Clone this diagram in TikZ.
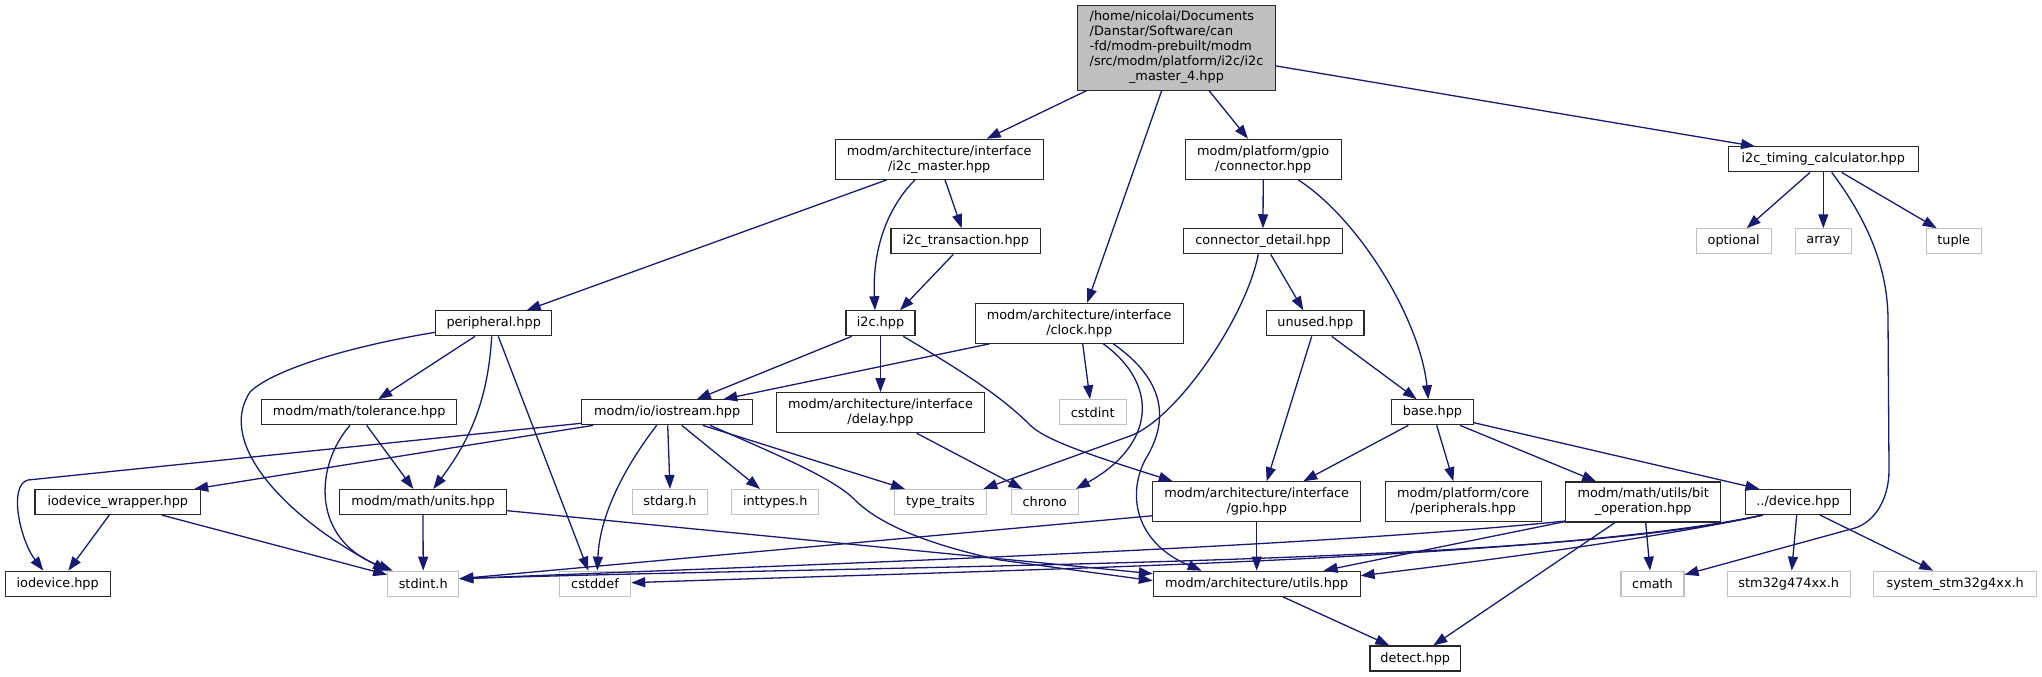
\documentclass[tikz,border=0pt]{standalone}
\usepackage{fontspec}
\setmainfont{DejaVu Sans}
\usetikzlibrary{arrows.meta,calc}
\definecolor{edgeblue}{RGB}{25,25,112}
\definecolor{extgray}{RGB}{191,191,191}
\definecolor{topfill}{RGB}{191,191,191}
\definecolor{nodeborder}{RGB}{40,40,40}
\tikzset{
  box/.style={draw=nodeborder, line width=1.1pt, inner sep=0pt, align=center,
    font=\fontsize{12.85}{15}\selectfont, minimum height=25pt},
  twoline/.style={box, minimum height=40pt},
  ext/.style={box, draw=extgray},
  dep/.style={draw=edgeblue, line width=1.3pt,
    arrows={-Triangle[length=14pt,width=10pt,fill=edgeblue,color=edgeblue]}},
}
\begin{document}
\begin{tikzpicture}[x=1pt,y=-1pt]
\useasboundingbox[fill=white] (0,0) rectangle (2042,677);

% row 1
\node[box, fill=topfill, minimum width=197.6pt, minimum height=84.3pt] (top) at (1176.5,47.9)
  {\begin{tabular}{@{}l@{}}/home/nicolai/Documents\\/Danstar/Software/can\\-fd/modm-prebuilt/modm\\/src/modm/platform/i2c/i2c\\\multicolumn{1}{@{}c@{}}{\_master\_4.hpp}\end{tabular}};
% row 2
\node[twoline, minimum width=208.3pt] (i2cm) at (939.2,159.3) {modm/architecture/interface\\/i2c\_master.hpp};
\node[twoline, minimum width=156.3pt] (conn) at (1263.2,159.3) {modm/platform/gpio\\/connector.hpp};
\node[box, minimum width=190pt] (timing) at (1823.3,159.4) {i2c\_timing\_calculator.hpp};
% row 3
\node[box, minimum width=149.7pt] (trans) at (965.8,241.3) {i2c\_transaction.hpp};
\node[box, minimum width=159.4pt] (cdet) at (1263,241.3) {connector\_detail.hpp};
\node[ext, minimum width=74.7pt] (optional) at (1733.7,241.3) {optional};
\node[ext, minimum width=56pt] (array) at (1823.3,241.3) {array};
\node[ext, minimum width=54.7pt] (tuple) at (1953.7,241.3) {tuple};
% row 4
\node[box, minimum width=116pt] (periph) at (493.7,323.3) {peripheral.hpp};
\node[box, minimum width=69pt] (i2c) at (880.5,323.3) {i2c.hpp};
\node[twoline, minimum width=208.3pt] (clock) at (1079.2,323.3) {modm/architecture/interface\\/clock.hpp};
\node[box, minimum width=97.3pt] (unused) at (1315.3,323.3) {unused.hpp};
% row 5
\node[box, minimum width=195pt] (tol) at (359.2,412.3) {modm/math/tolerance.hpp};
\node[box, minimum width=171pt] (iostream) at (667.2,412.3) {modm/io/iostream.hpp};
\node[twoline, minimum width=207.6pt] (delay) at (880.5,412.7) {modm/architecture/interface\\/delay.hpp};
\node[ext, minimum width=66.7pt] (cstdint) at (1092.7,412.3) {cstdint};
\node[box, minimum width=81.6pt] (base) at (1432.5,412.3) {base.hpp};
% row 6
\node[box, minimum width=165.7pt] (iodw) at (117.8,502) {iodevice\_wrapper.hpp};
\node[box, minimum width=167.4pt] (units) at (423,502) {modm/math/units.hpp};
\node[ext, minimum width=74.6pt] (stdarg) at (670,502) {stdarg.h};
\node[ext, minimum width=87pt] (inttypes) at (775.2,502) {inttypes.h};
\node[ext, minimum width=92.4pt] (typetraits) at (940.5,502) {type\_traits};
\node[ext, minimum width=67.3pt] (chrono) at (1044.7,502) {chrono};
\node[twoline, minimum width=208pt] (gpio) at (1256.7,501.8) {modm/architecture/interface\\/gpio.hpp};
\node[twoline, minimum width=155.7pt] (periphs) at (1463.2,501.8) {modm/platform/core\\/peripherals.hpp};
\node[twoline, minimum width=155pt] (bitop) at (1643.2,502) {modm/math/utils/bit\\\_operation.hpp};
\node[box, minimum width=105.4pt] (device) at (1798,502) {../device.hpp};
% row 7
\node[box, minimum width=105.3pt] (iodevice) at (57.7,583.7) {iodevice.hpp};
\node[ext, minimum width=71pt] (stdint) at (423.2,583.7) {stdint.h};
\node[ext, minimum width=71.4pt] (cstddef) at (595,583.7) {cstddef};
\node[box, minimum width=206.7pt] (utils) at (1256.7,583.7) {modm/architecture/utils.hpp};
\node[ext, minimum width=63pt] (cmath) at (1652.5,583.7) {cmath};
\node[ext, minimum width=122.7pt] (stm32) at (1788.7,583.7) {stm32g474xx.h};
\node[ext, minimum width=163pt] (system) at (1955.2,583.7) {system\_stm32g4xx.h};
% row 8
\node[box, minimum width=90.7pt] (detect) at (1415.3,658.5) {detect.hpp};

% ---- edges ----
% top
\draw[dep] ($(top.south)+(-89.8,0)$) -- ($(i2cm.north)+(47.5,0)$);
\draw[dep] ($(top.south)+(-14.8,0)$) -- ($(clock.north)+(8,0)$);
\draw[dep] ($(top.south)+(32.5,0)$) -- ($(conn.north)+(-15.2,0)$);
\draw[dep] ($(top.east)+(0,18)$) -- ($(timing.north)+(-68.3,0)$);
% i2c_master
\draw[dep] ($(i2cm.south)+(-52.5,0)$) -- ($(periph.north)+(33,0)$);
\draw[dep] ($(i2cm.south)+(-24.2,0)$) .. controls (890,205) and (872,245) .. ($(i2c.north)+(-5.5,0)$);
\draw[dep] ($(i2cm.south)+(5.8,0)$) -- ($(trans.north)+(-4.1,0)$);
\draw[dep] ($(trans.south)+(-12.5,0)$) -- ($(i2c.north)+(19.5,0)$);
% connector
\draw[dep] (conn.south) -- (cdet.north);
\draw[dep] ($(conn.south)+(35,0)$) .. controls (1360,220) and (1420,320) .. ($(base.north)+(-4.2,0)$);
\draw[dep] ($(cdet.south)+(-4.7,0)$) .. controls (1245,320) and (1175,420) .. (1130,436) -- ($(typetraits.north)+(42.8,0)$);
\draw[dep] ($(cdet.south)+(7.7,0)$) -- ($(unused.north)+(-12,0)$);
% timing
\draw[dep] ($(timing.south)+(-13.3,0)$) -- ($(optional.north)+(13,0)$);
\draw[dep] (timing.south) -- (array.north);
\draw[dep] ($(timing.south)+(18.4,0)$) -- ($(tuple.north)+(-17,0)$);
\draw[dep] ($(timing.south)+(8.4,0)$) .. controls (1860,210) and (1888,260) .. (1888,320) -- (1889,470)
  .. controls (1889,500) and (1874,522) .. (1855,528) -- ($(cmath.east)+(0,-9)$);
% peripheral
\draw[dep] ($(periph.west)+(0,9)$) .. controls (340,348) and (270,372) .. (250,392)
  .. controls (215,445) and (290,520) .. (stdint.north west);
\draw[dep] ($(periph.south)+(-18.7,0)$) -- ($(tol.north)+(19.1,0)$);
\draw[dep] ($(periph.south)+(-2,0)$) .. controls (488,400) and (470,440) .. ($(units.north)+(10.3,0)$);
\draw[dep] ($(periph.south)+(4.6,0)$) -- ($(cstddef.north)+(-6.7,0)$);
% tolerance
\draw[dep] ($(tol.south)+(7.5,0)$) -- ($(units.north)+(-9.7,0)$);
\draw[dep] ($(tol.south)+(-9.2,0)$) .. controls (315,465) and (310,540) .. ($(stdint.north west)+(5.6,0)$);
% iostream
\draw[dep] ($(iostream.west)+(0,11)$) -- (28,480) .. controls (8,485) and (20,540) .. ($(iodevice.north)+(-14.4,0)$);
\draw[dep] ($(iostream.south west)+(12,0)$) -- ($(iodw.north east)+(-7,0)$);
\draw[dep] ($(iostream.south)+(-10.5,0)$) .. controls (630,460) and (600,510) .. ($(cstddef.north)+(2.3,0)$);
\draw[dep] ($(iostream.south)+(0.5,0)$) -- (stdarg.north);
\draw[dep] ($(iostream.south)+(14.5,0)$) -- ($(inttypes.north)+(-15.2,0)$);
\draw[dep] ($(iostream.south)+(35.5,0)$) -- ($(typetraits.north)+(-35.5,0)$);
\draw[dep] ($(iostream.south)+(42.8,0)$) .. controls (790,460) and (835,480) .. (855,500)
  .. controls (880,525) and (930,545) .. (1000,560) -- ($(utils.west)+(0,-3)$);
% iodevice_wrapper
\draw[dep] ($(iodw.south)+(-8.5,0)$) -- ($(iodevice.north)+(10.6,0)$);
\draw[dep] ($(iodw.south)+(43.9,0)$) -- ($(stdint.west)+(0,-9)$);
% units
\draw[dep] (units.south) -- (stdint.north);
\draw[dep] ($(units.east)+(0,8.7)$) -- ($(utils.west)+(0,-10)$);
% i2c
\draw[dep] ($(i2c.south)+(-28.8,0)$) -- ($(iostream.north)+(29.5,0)$);
\draw[dep] (i2c.south) -- (delay.north);
\draw[dep] ($(i2c.south)+(22.8,0)$) .. controls (960,370) and (1000,395) .. (1030,425)
  .. controls (1045,440) and (1090,455) .. ($(gpio.north west)+(20.6,0)$);
% clock
\draw[dep] ($(clock.south west)+(15,0)$) -- ($(iostream.north)+(56.1,0)$);
\draw[dep] ($(clock.south)+(3.5,0)$) -- ($(cstdint.north)+(-2.7,0)$);
\draw[dep] ($(clock.south)+(24.1,0)$) .. controls (1160,385) and (1155,445) .. ($(chrono.north east)+(-3,0)$);
\draw[dep] ($(clock.south)+(34.1,0)$) .. controls (1165,380) and (1170,420) .. (1145,460)
  .. controls (1125,500) and (1140,545) .. ($(utils.north)+(-55,0)$);
% delay
\draw[dep] ($(delay.south)+(36.2,0)$) -- ($(chrono.north west)+(12,0)$);
% unused
\draw[dep] ($(unused.south)+(-3.6,0)$) -- ($(gpio.north)+(10,0)$);
\draw[dep] ($(unused.south)+(16.4,0)$) -- ($(base.north)+(-15.8,0)$);
% base
\draw[dep] ($(base.south)+(-24.2,0)$) -- ($(gpio.north)+(46.6,0)$);
\draw[dep] ($(base.south)+(4.2,0)$) -- ($(periphs.north)+(-9.9,0)$);
\draw[dep] ($(base.south)+(27.5,0)$) -- ($(bitop.north west)+(31,0)$);
\draw[dep] ($(base.east)+(0,10.4)$) -- ($(device.north west)+(14.7,0)$);
% gpio
\draw[dep] (gpio.south) -- (utils.north);
\draw[dep] ($(gpio.west)+(0,14)$) -- ($(stdint.east)+(0,-5)$);
% utils
\draw[dep] ($(utils.south)+(26,0)$) -- ($(detect.north west)+(20,0)$);
% bit_operation
\draw[dep] ($(bitop.south)+(-28.2,0)$) -- ($(detect.north)+(18,0)$);
\draw[dep] ($(bitop.south)+(2.5,0)$) -- ($(cmath.north)+(-2.5,0)$);
\draw[dep] ($(bitop.south west)+(0,-1)$) -- ($(utils.north east)+(-37,0)$);
\draw[dep] ($(bitop.south west)+(0,-1.5)$) .. controls (1300,548) and (800,565) .. ($(stdint.east)+(0,-5)$);
% device
\draw[dep] ($(device.south west)+(18,0)$) .. controls (1550,565) and (900,565) .. ($(stdint.east)+(0,-5)$);
\draw[dep] ($(device.south west)+(18,0)$) .. controls (1550,560) and (1000,570) .. ($(cstddef.east)+(0,-1)$);
\draw[dep] ($(device.south west)+(18,0)$) .. controls (1650,540) and (1450,565) .. ($(utils.east)+(0,-8)$);
\draw[dep] ($(device.south)+(-1.3,0)$) -- ($(stm32.north)+(3,0)$);
\draw[dep] ($(device.south)+(22,0)$) -- ($(system.north)+(-21.9,0)$);
\end{tikzpicture}
\end{document}
